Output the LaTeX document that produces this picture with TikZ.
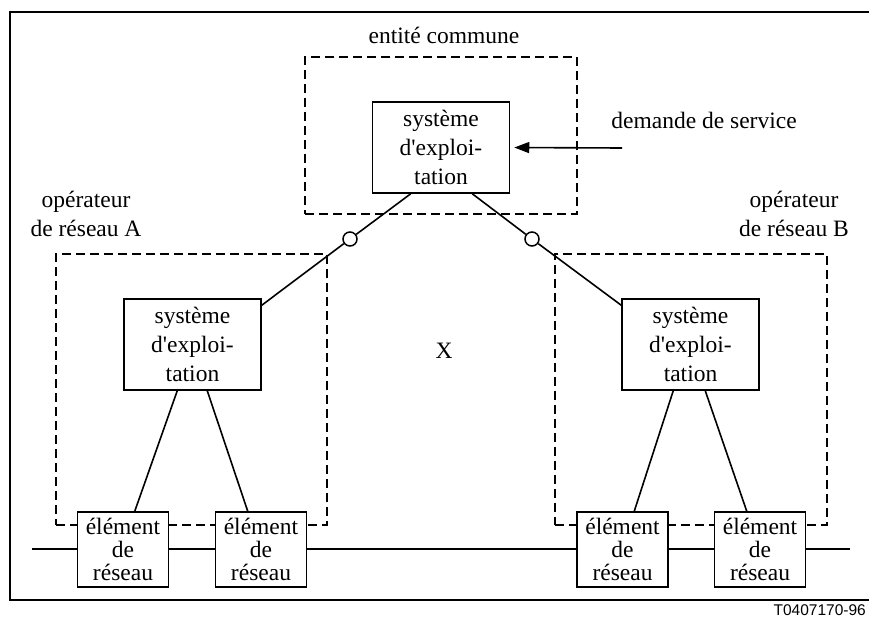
\documentclass[tikz,border=0pt]{standalone}
\usepackage{fontspec}
\setmainfont{Liberation Serif}
\newfontfamily\refsans{Liberation Sans}
\usetikzlibrary{arrows.meta, positioning}

\begin{document}
\begin{tikzpicture}[
  x=1pt, y=-1pt,
  every node/.style={font=\fontsize{23.5}{29}\selectfont},
  sysbox/.style={draw, line width=1.5pt, fill=white, align=center, inner sep=0pt, minimum width=137pt, minimum height=91pt},
  nebox/.style={draw, line width=1.5pt, fill=white, align=center, inner sep=0pt, minimum width=91pt, minimum height=75pt, font=\fontsize{23.5}{23}\selectfont},
  grpbox/.style={draw, dash pattern=on 9pt off 5pt, line width=2.2pt, inner sep=0pt},
  port/.style={circle, draw, line width=1.5pt, fill=white, minimum size=14pt, inner sep=0pt},
  lbl/.style={align=center, inner sep=0pt},
  wire/.style={line width=1.6pt},
  bus/.style={line width=2.3pt},
  refno/.style={font=\refsans\fontsize{15.5}{19}\selectfont, inner sep=0pt}
]
\useasboundingbox (0,0) rectangle (869,624);
\draw[line width=1.6pt] (869,12) -| (10,600) -- (869,600);

% reseau commun
\coordinate (busL) at (32,549);
\coordinate (busR) at (850,549);
\draw[bus] (busL) -- (busR);

% domaines
\node[grpbox, minimum width=272pt, minimum height=157pt] (grpC) at (441,135.5) {};
\node[grpbox, minimum width=271pt, minimum height=271pt] (grpA) at (191.5,389.5) {};
\node[grpbox, minimum width=272pt, minimum height=271pt] (grpB) at (691,389.5) {};

\node[lbl, anchor=base] (lblC) at (444,43) {entité commune};
\node[lbl] (lblA) at (86,214) {opérateur\\de réseau A};
\node[lbl] (lblB) at (794,214) {opérateur\\de réseau B};
\node[lbl, anchor=base] (lblX) at (444,358) {X};
\node[lbl, anchor=base] (lblD) at (704,128) {demande de service};
\node[refno, anchor=base east] (refno) at (866,615) {T0407170-96};

% systemes d'exploitation
\node[sysbox] (osC) at (441,147.5) {système\\d\textquotesingle exploi-\\tation};
\node[sysbox] (osA) at (192.5,344.5) {système\\d\textquotesingle exploi-\\tation};
\node[sysbox] (osB) at (690.5,344.5) {système\\d\textquotesingle exploi-\\tation};

% elements de reseau
\node[nebox] (neA1) at (123,549.5) {élément\\de\\réseau};
\node[nebox, right=45.5pt of neA1] (neA2) {élément\\de\\réseau};
\node[nebox] (neB1) at (622.5,549.5) {élément\\de\\réseau};
\node[nebox, right=45pt of neB1] (neB2) {élément\\de\\réseau};

\node[port] (cA) at (350,239) {};
\node[port] (cB) at (532,239) {};

\draw[wire] ([xshift=39pt]osC.south west) -- (cA);
\draw[wire] (cA) -- ([yshift=-7pt]osA.north east);
\draw[wire] ([xshift=-38pt]osC.south east) -- (cB);
\draw[wire] (cB) -- ([yshift=-7pt]osB.north west);

\draw[wire] ([xshift=54pt]osA.south west) -- ([xshift=58pt]neA1.north west);
\draw[wire] ([xshift=84pt]osA.south west) -- ([xshift=33pt]neA2.north west);
\draw[wire] ([xshift=52pt]osB.south west) -- ([xshift=58pt]neB1.north west);
\draw[wire] ([xshift=84pt]osB.south west) -- ([xshift=33pt]neB2.north west);

\coordinate (dsrc) at (622,148);
\draw[wire, -{Triangle[length=15pt, width=11pt]}, shorten >=4pt] (dsrc) -- (osC.east);
\end{tikzpicture}
\end{document}
